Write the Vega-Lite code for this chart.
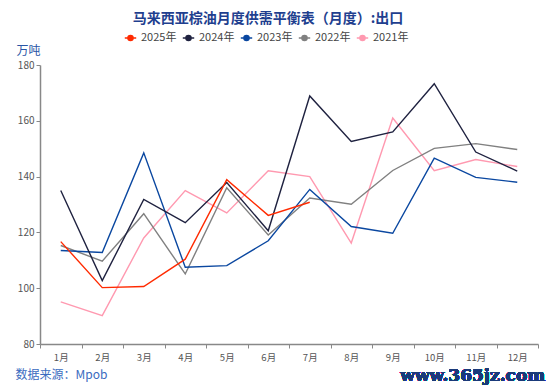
{
  "$schema": "https://vega.github.io/schema/vega-lite/v6.json",
  "width": 498,
  "height": 279,
  "autosize": {"type": "none"},
  "padding": {"left": 40, "top": 65, "right": 12, "bottom": 46},
  "background": "white",
  "config": {"view": {"stroke": null}, "font": "Noto Sans CJK SC"},
  "title": {
    "text": "马来西亚棕油月度供需平衡表（月度）:出口",
    "fontSize": 14,
    "fontWeight": "bold",
    "color": "#1f3f8f",
    "anchor": "middle",
    "dx": -21,
    "dy": 13,
    "offset": 18
  },
  "data": {
    "values": [
      {"month": "1月", "year": "2021年", "value": 95.1},
      {"month": "2月", "year": "2021年", "value": 90.2},
      {"month": "3月", "year": "2021年", "value": 118.0},
      {"month": "4月", "year": "2021年", "value": 135.0},
      {"month": "5月", "year": "2021年", "value": 127.0},
      {"month": "6月", "year": "2021年", "value": 142.1},
      {"month": "7月", "year": "2021年", "value": 140.0},
      {"month": "8月", "year": "2021年", "value": 116.2},
      {"month": "9月", "year": "2021年", "value": 161.0},
      {"month": "10月", "year": "2021年", "value": 142.1},
      {"month": "11月", "year": "2021年", "value": 146.1},
      {"month": "12月", "year": "2021年", "value": 143.6},
      {"month": "1月", "year": "2022年", "value": 115.3},
      {"month": "2月", "year": "2022年", "value": 109.7},
      {"month": "3月", "year": "2022年", "value": 126.7},
      {"month": "4月", "year": "2022年", "value": 105.1},
      {"month": "5月", "year": "2022年", "value": 136.0},
      {"month": "6月", "year": "2022年", "value": 119.1},
      {"month": "7月", "year": "2022年", "value": 132.3},
      {"month": "8月", "year": "2022年", "value": 130.1},
      {"month": "9月", "year": "2022年", "value": 142.2},
      {"month": "10月", "year": "2022年", "value": 150.1},
      {"month": "11月", "year": "2022年", "value": 151.8},
      {"month": "12月", "year": "2022年", "value": 149.7},
      {"month": "1月", "year": "2023年", "value": 113.5},
      {"month": "2月", "year": "2023年", "value": 112.8},
      {"month": "3月", "year": "2023年", "value": 148.5},
      {"month": "4月", "year": "2023年", "value": 107.5},
      {"month": "5月", "year": "2023年", "value": 108.1},
      {"month": "6月", "year": "2023年", "value": 117.0},
      {"month": "7月", "year": "2023年", "value": 135.4},
      {"month": "8月", "year": "2023年", "value": 122.1},
      {"month": "9月", "year": "2023年", "value": 119.7},
      {"month": "10月", "year": "2023年", "value": 146.6},
      {"month": "11月", "year": "2023年", "value": 139.7},
      {"month": "12月", "year": "2023年", "value": 138.0},
      {"month": "1月", "year": "2024年", "value": 135.0},
      {"month": "2月", "year": "2024年", "value": 102.7},
      {"month": "3月", "year": "2024年", "value": 131.8},
      {"month": "4月", "year": "2024年", "value": 123.5},
      {"month": "5月", "year": "2024年", "value": 137.9},
      {"month": "6月", "year": "2024年", "value": 120.6},
      {"month": "7月", "year": "2024年", "value": 168.9},
      {"month": "8月", "year": "2024年", "value": 152.6},
      {"month": "9月", "year": "2024年", "value": 156.0},
      {"month": "10月", "year": "2024年", "value": 173.3},
      {"month": "11月", "year": "2024年", "value": 148.8},
      {"month": "12月", "year": "2024年", "value": 142.0},
      {"month": "1月", "year": "2025年", "value": 116.7},
      {"month": "2月", "year": "2025年", "value": 100.2},
      {"month": "3月", "year": "2025年", "value": 100.6},
      {"month": "4月", "year": "2025年", "value": 110.4},
      {"month": "5月", "year": "2025年", "value": 138.9},
      {"month": "6月", "year": "2025年", "value": 126.1},
      {"month": "7月", "year": "2025年", "value": 130.8}
    ]
  },
  "layer": [
    {
      "mark": {"type": "line", "strokeWidth": 1.4},
      "encoding": {
        "x": {
          "field": "month",
          "type": "ordinal",
          "scale": {"type": "band", "domain": ["1月","2月","3月","4月","5月","6月","7月","8月","9月","10月","11月","12月"], "paddingInner": 0, "paddingOuter": 0},
          "axis": {
            "title": "数据来源：Mpob",
            "titleX": -25,
            "titleY": 30,
            "titleAlign": "left",
            "titleBaseline": "middle",
            "titleColor": "#3a6bc0",
            "titleFontSize": 12,
            "titleFontWeight": "normal",
            "labelAngle": 0,
            "labelColor": "#555555",
            "labelFontSize": 9.5,
            "labelPadding": 4,
            "tickBand": "extent",
            "tickColor": "#888888",
            "tickSize": 4,
            "domainColor": "#888888",
            "domainWidth": 1.5,
            "grid": false
          }
        },
        "y": {
          "field": "value",
          "type": "quantitative",
          "scale": {"domain": [80, 180], "nice": false, "zero": false},
          "axis": {
            "title": "万吨",
            "titleAngle": 0,
            "titleX": -24,
            "titleY": -15,
            "titleAlign": "left",
            "titleBaseline": "middle",
            "titleColor": "#2a55a5",
            "titleFontSize": 12,
            "titleFontWeight": "normal",
            "values": [80, 100, 120, 140, 160, 180],
            "labelColor": "#555555",
            "labelFontSize": 10,
            "tickColor": "#888888",
            "tickSize": 4,
            "domainColor": "#888888",
            "domainWidth": 1.5,
            "grid": false
          }
        },
        "color": {
          "field": "year",
          "type": "nominal",
          "scale": {
            "domain": ["2025年", "2024年", "2023年", "2022年", "2021年"],
            "range": ["#ff2a00", "#1f2240", "#0a47a0", "#808080", "#ff99b0"]
          },
          "legend": {
            "orient": "none",
            "legendX": 84,
            "legendY": -34,
            "direction": "horizontal",
            "title": null,
            "symbolType": "M-1,0L1,0M-0.45,0A0.45,0.45 0 1,0 0.45,0A0.45,0.45 0 1,0 -0.45,0Z",
            "symbolSize": 130,
            "symbolStrokeWidth": 1.5,
            "labelFontSize": 11,
            "labelColor": "#444444",
            "labelOffset": 4,
            "columnPadding": 2,
            "encode": {"symbols": {"update": {"fill": {"scale": "color", "field": "value"}}}}
          }
        }
      }
    },
    {
      "mark": {"type": "text", "align": "right", "baseline": "middle", "dx": 28, "font": "DejaVu Serif", "fontSize": 17, "fontWeight": "bold", "color": "#1a3a7a"},
      "encoding": {
        "x": {"datum": "12月", "type": "ordinal"},
        "y": {"datum": 68.6, "type": "quantitative"},
        "text": {"value": "www.365jz.com"}
      }
    }
  ]
}
